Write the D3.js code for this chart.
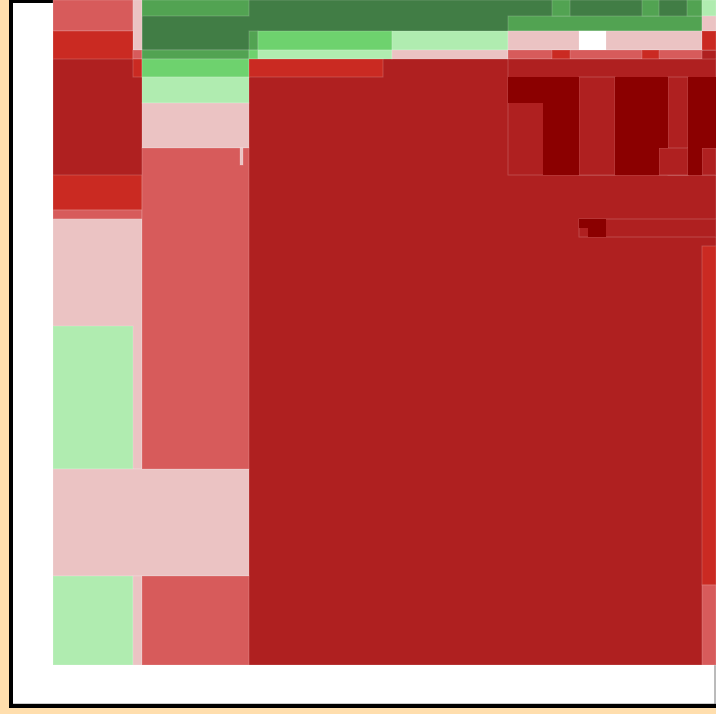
<!DOCTYPE html>
<html>
<head>
<meta charset="utf-8">
<script src="https://cdn.jsdelivr.net/npm/d3@7"></script>
<style>
  html, body { margin: 0; padding: 0; background: #ffdead; overflow: hidden; }
  #map { position: absolute; left: 0; top: 0; }
</style>
</head>
<body>
<div id="map"></div>
<script>
// tiles of the zoomed map, in map units, painted in order (parents first)
const tileX0 = [0, 89, 0, 80, 0, 80, 80, 0, 0, 0, 0, 0, 0, 80, 89, 89, 89, 89, 89, 89, 89, 187,
  196, 205, 339, 196, 205, 339, 196, 455, 499, 589, 634, 649, 649, 455, 526, 649, 455, 499, 589,
  455, 526, 615, 606, 649, 455, 490, 562, 562, 635, 635, 526, 526, 535, 649, 649]
const tileX1 = [663, 663, 80, 89, 80, 89, 89, 89, 89, 89, 80, 196, 80, 89, 196, 196, 196, 196, 196, 196, 196, 190,
  205, 339, 455, 205, 339, 455, 330, 649, 517, 606, 649, 663, 663, 649, 553, 663, 649, 517, 606,
  663, 562, 635, 635, 663, 526, 526, 615, 606, 663, 649, 663, 553, 553, 663, 663]
const tileY0 = [50, 0, 0, 0, 31, 50, 59, 175, 210, 219, 326, 469, 576, 576, 576, 0, 50, 59, 77, 103, 148, 148,
  31, 31, 31, 50, 50, 50, 59, 16, 0, 0, 0, 0, 16, 31, 31, 31, 50, 50, 50,
  59, 77, 77, 148, 148, 77, 103, 77, 148, 77, 148, 219, 219, 228, 246, 585]
const tileY1 = [665, 50, 31, 50, 59, 59, 77, 210, 219, 469, 469, 576, 665, 665, 665, 16, 59, 77, 103, 148, 469, 165,
  50, 50, 50, 59, 59, 59, 77, 31, 16, 16, 16, 16, 31, 50, 50, 50, 59, 59, 59,
  175, 175, 175, 175, 175, 103, 175, 148, 175, 148, 175, 237, 228, 237, 585, 665]
// daily % change of each tile (null = no data)
const tileChange = [-2.5, 3.5, -0.6, 0, -1.5, -0.6, -1.5, -1.5, -0.6, 0, 0.6, 0, 0.6, 0, -0.6, 2.5, 2.5, 1.5, 0.6, 0, -0.6, 0,
  2.5, 1.5, 0.6, 1.5, 0.6, 0, -1.5, 2.5, 2.5, 2.5, 2.5, 0.6, 0, 0, null, -1.5, -0.6, -1.5, -1.5,
  -2.5, -2.5, -2.5, -2.5, -2.5, -3.5, -3.5, -3.5, -3.5, -3.5, -3.5, -2.5, -3.5, -3.5, -1.5, -0.6]

const changeSteps = [-3, -2, -1, -0.25, 0.25, 1, 2, 3]
const changeColors = ['#8b0000', '#af2020', '#ca2a22', '#d75b5b', '#ebc3c3',
  '#b0ecb0', '#6ed26e', '#52a352', '#417d45']

const W = 716
const H = 714

const svg = d3.select('#map')
  .append('svg')
  .attr('width', W)
  .attr('height', H)

// white panel with heavy black frame
svg.append('rect')
  .attr('x', 11)
  .attr('y', 1)
  .attr('width', 740)
  .attr('height', 705)
  .style('fill', '#fff')
  .style('stroke', '#000')
  .style('stroke-width', 4)

svg.append('line')
  .attr('x1', 13).attr('x2', W)
  .attr('y1', 703.5).attr('y2', 703.5)
  .style('stroke', '#ccc')

svg.append('line')
  .attr('x1', 715).attr('x2', 715)
  .attr('y1', 665).attr('y2', 704)
  .style('stroke', '#777')

const x = d3.scaleLinear().domain([0, 663]).range([53, 716])
const y = d3.scaleLinear().domain([0, 665]).range([0, 665])
const color = d3.scaleThreshold().domain(changeSteps).range(changeColors)

const tiles = tileX0.map((d, i) => ({
  x0: tileX0[i], x1: tileX1[i], y0: tileY0[i], y1: tileY1[i], change: tileChange[i]
}))

// the deepest losers are drawn as seamless blocks, the rest get a faint edge
svg.append('g')
  .selectAll('rect')
  .data(tiles)
  .join('rect')
  .attr('x', d => x(d.x0))
  .attr('y', d => y(d.y0))
  .attr('width', d => x(d.x1) - x(d.x0))
  .attr('height', d => y(d.y1) - y(d.y0))
  .style('fill', d => d.change === null ? '#fff' : color(d.change))
  .style('stroke', d => d.change !== null && d.change <= -3 ? 'none' : 'rgba(255,255,255,0.18)')
  .style('stroke-width', 1)
</script>
</body>
</html>
